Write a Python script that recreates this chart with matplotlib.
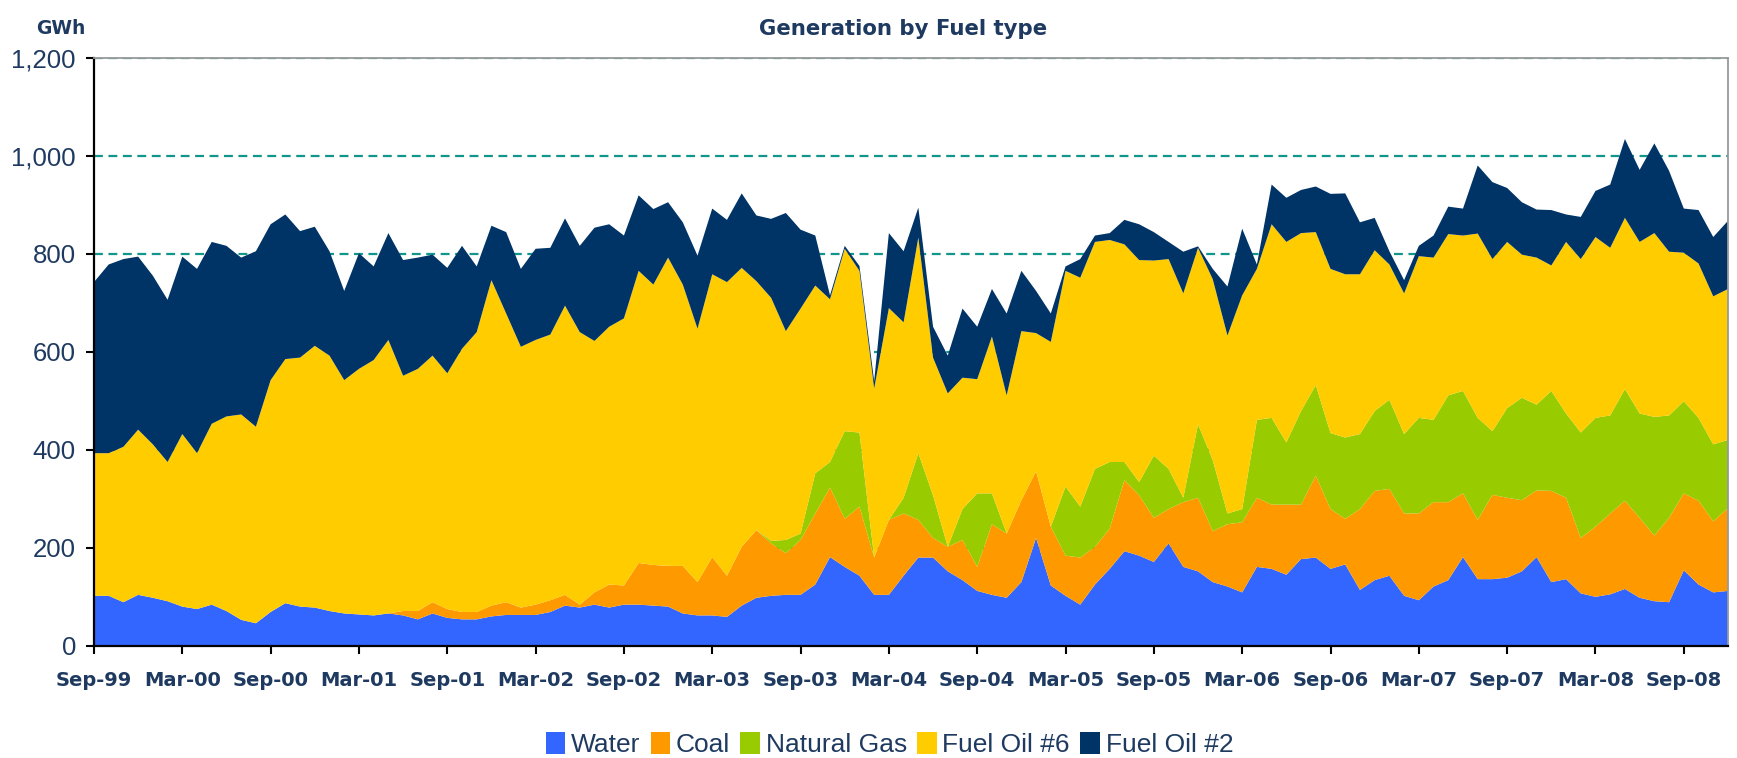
import matplotlib
matplotlib.use("Agg")
import matplotlib.pyplot as plt
from matplotlib import font_manager
from matplotlib.patches import Patch
from matplotlib.ticker import FuncFormatter
import numpy as np
import pandas as pd

# monthly generation (GWh), Sep-1999 .. Dec-2008
months = pd.date_range("1999-09-01", periods=112, freq="MS")

water = [102, 102, 89, 104, 98, 91, 80, 75, 84, 71, 53, 46, 69, 87, 80, 78, 71, 66, 64, 62,
         66, 62, 54, 66, 57, 54, 54, 60, 63, 63, 63, 69, 82, 78, 84, 78, 84, 84, 82, 80,
         66, 62, 62, 59, 82, 98, 102, 104, 104, 125, 181, 161, 143, 104, 104, 143, 180, 180, 152, 134,
         112, 104, 98, 130, 220, 123, 102, 84, 125, 157, 193, 184, 171, 209, 161, 152, 130, 121, 109, 161,
         157, 145, 177, 180, 157, 166, 114, 134, 143, 102, 93, 121, 134, 181, 136, 136, 139, 152, 181, 130,
         136, 107, 100, 105, 116, 98, 91, 89, 154, 125, 109, 112]
coal = [0, 0, 0, 0, 0, 0, 0, 0, 0, 0, 0, 0, 0, 0, 0, 0, 0, 0, 0, 0,
        0, 9, 17, 23, 18, 15, 15, 22, 26, 15, 21, 24, 22, 6, 25, 47, 39, 85, 83, 83,
        97, 68, 119, 84, 120, 138, 107, 85, 112, 145, 142, 98, 141, 76, 153, 127, 77, 40, 50, 82,
        49, 144, 131, 167, 136, 120, 82, 96, 77, 82, 145, 123, 90, 70, 132, 150, 104, 127, 143, 141,
        131, 143, 111, 167, 122, 93, 165, 182, 177, 168, 177, 172, 159, 130, 121, 172, 163, 145, 136, 186,
        166, 113, 143, 165, 180, 163, 134, 172, 157, 171, 145, 169]
natural_gas = [0, 0, 0, 0, 0, 0, 0, 0, 0, 0, 0, 0, 0, 0, 0, 0, 0, 0, 0, 0,
               0, 0, 0, 0, 0, 0, 0, 0, 0, 0, 0, 0, 0, 0, 0, 0, 0, 0, 0, 0,
               0, 0, 0, 0, 0, 0, 5, 27, 13, 82, 52, 179, 151, 0, 0, 32, 136, 87, 0, 63,
               150, 63, 0, 0, 0, 0, 141, 104, 159, 136, 37, 27, 127, 82, 9, 150, 145, 22, 27, 159,
               177, 127, 191, 185, 155, 166, 153, 163, 182, 162, 195, 168, 218, 209, 208, 130, 183, 209, 175, 204,
               172, 215, 222, 200, 228, 213, 242, 209, 188, 169, 157, 139]
fuel_oil_6 = [291, 291, 317, 337, 313, 284, 352, 318, 369, 397, 419, 401, 473, 498, 508, 534, 521, 476, 501, 521,
              558, 480, 494, 503, 481, 537, 571, 664, 589, 532, 540, 542, 590, 556, 513, 526, 545, 596, 572, 629,
              574, 517, 577, 599, 569, 508, 496, 426, 459, 383, 332, 372, 330, 345, 432, 358, 440, 281, 313, 268,
              233, 320, 282, 345, 282, 377, 440, 467, 463, 453, 444, 453, 398, 428, 417, 360, 369, 363, 436, 308,
              395, 409, 363, 312, 335, 333, 326, 328, 276, 287, 330, 331, 329, 317, 376, 351, 339, 292, 300, 256,
              350, 354, 369, 342, 349, 350, 375, 334, 303, 315, 302, 308]
fuel_oil_2 = [349, 385, 383, 353, 344, 331, 362, 376, 371, 348, 320, 358, 318, 295, 258, 243, 213, 182, 236, 191,
              218, 236, 227, 206, 215, 210, 134, 111, 166, 159, 186, 177, 178, 176, 231, 209, 169, 154, 154, 113,
              127, 149, 134, 127, 152, 134, 161, 241, 161, 102, 8, 6, 10, 15, 153, 145, 61, 63, 77, 141,
              107, 97, 167, 123, 86, 58, 9, 38, 13, 14, 50, 73, 58, 35, 85, 3, 21, 100, 136, 9,
              81, 90, 88, 93, 153, 165, 106, 66, 27, 27, 21, 45, 56, 55, 139, 157, 110, 107, 98, 113,
              56, 86, 94, 129, 161, 147, 183, 165, 90, 109, 121, 139]

fuels = ["Water", "Coal", "Natural Gas", "Fuel Oil #6", "Fuel Oil #2"]
colors = ["#3366ff", "#ff9900", "#99cc00", "#ffcc00", "#003366"]

tick_labels = ["Sep-99", "Mar-00", "Sep-00", "Mar-01", "Sep-01", "Mar-02", "Sep-02",
               "Mar-03", "Sep-03", "Mar-04", "Sep-04", "Mar-05", "Sep-05", "Mar-06",
               "Sep-06", "Mar-07", "Sep-07", "Mar-08", "Sep-08"]

TXT = "#1f3a60"

# legend uses a narrow face if the system has one
installed = {f.name for f in font_manager.fontManager.ttflist}
if "Liberation Sans Narrow" in installed:
    leg_font, leg_size = "Liberation Sans Narrow", 23.5
else:
    leg_font, leg_size = "Liberation Sans", 19

fig = plt.figure(figsize=(17.37, 7.58), dpi=100)
ax = fig.add_axes([0.0541, 0.148, 0.9407, 0.776])

x = np.arange(len(months))
ax.stackplot(x, water, coal, natural_gas, fuel_oil_6, fuel_oil_2,
             colors=colors, linewidth=0, zorder=2)

ax.set_xlim(0, len(months) - 1)
ax.set_ylim(0, 1200)
ax.set_yticks(range(0, 1201, 200))
ax.yaxis.set_major_formatter(FuncFormatter(lambda v, _: f"{int(v):,}"))
ax.set_xticks(x[::6])
ax.set_xticklabels(tick_labels)

ax.grid(axis="y", color="#12968c", lw=1.6, ls=(0, (4, 2.5)), zorder=1)
ax.set_axisbelow(True)

for s in ("left", "bottom"):
    ax.spines[s].set_color("black")
    ax.spines[s].set_linewidth(1.6)
for s in ("top", "right"):
    ax.spines[s].set_color("#999999")
    ax.spines[s].set_linewidth(1.3)

ax.tick_params(axis="y", direction="out", length=6, width=1.5, pad=7,
               labelsize=18.5, labelcolor=TXT)
ax.tick_params(axis="x", direction="out", length=6, width=1.5, pad=12,
               labelsize=14, labelcolor=TXT)
for lab in ax.get_yticklabels():
    lab.set_family("Liberation Sans")
for lab in ax.get_xticklabels():
    lab.set_family("DejaVu Sans")
    lab.set_fontweight("bold")

fig.text(0.52, 0.962, "Generation by Fuel type", ha="center", va="center",
         fontsize=15.3, fontweight="bold", color=TXT, family="DejaVu Sans")
fig.text(0.021, 0.962, "GWh", ha="left", va="center",
         fontsize=13.5, fontweight="bold", color=TXT, family="DejaVu Sans")

handles = [Patch(facecolor=c, edgecolor="none", label=f) for f, c in zip(fuels, colors)]
fig.legend(handles=handles, loc="center", bbox_to_anchor=(0.512, 0.018), ncol=5,
           frameon=False, handlelength=0.75, handleheight=0.95, handletextpad=0.2,
           columnspacing=0.4, borderpad=0, prop={"family": leg_font, "size": leg_size},
           labelcolor=TXT)

fig.savefig("out.png", dpi=100)
